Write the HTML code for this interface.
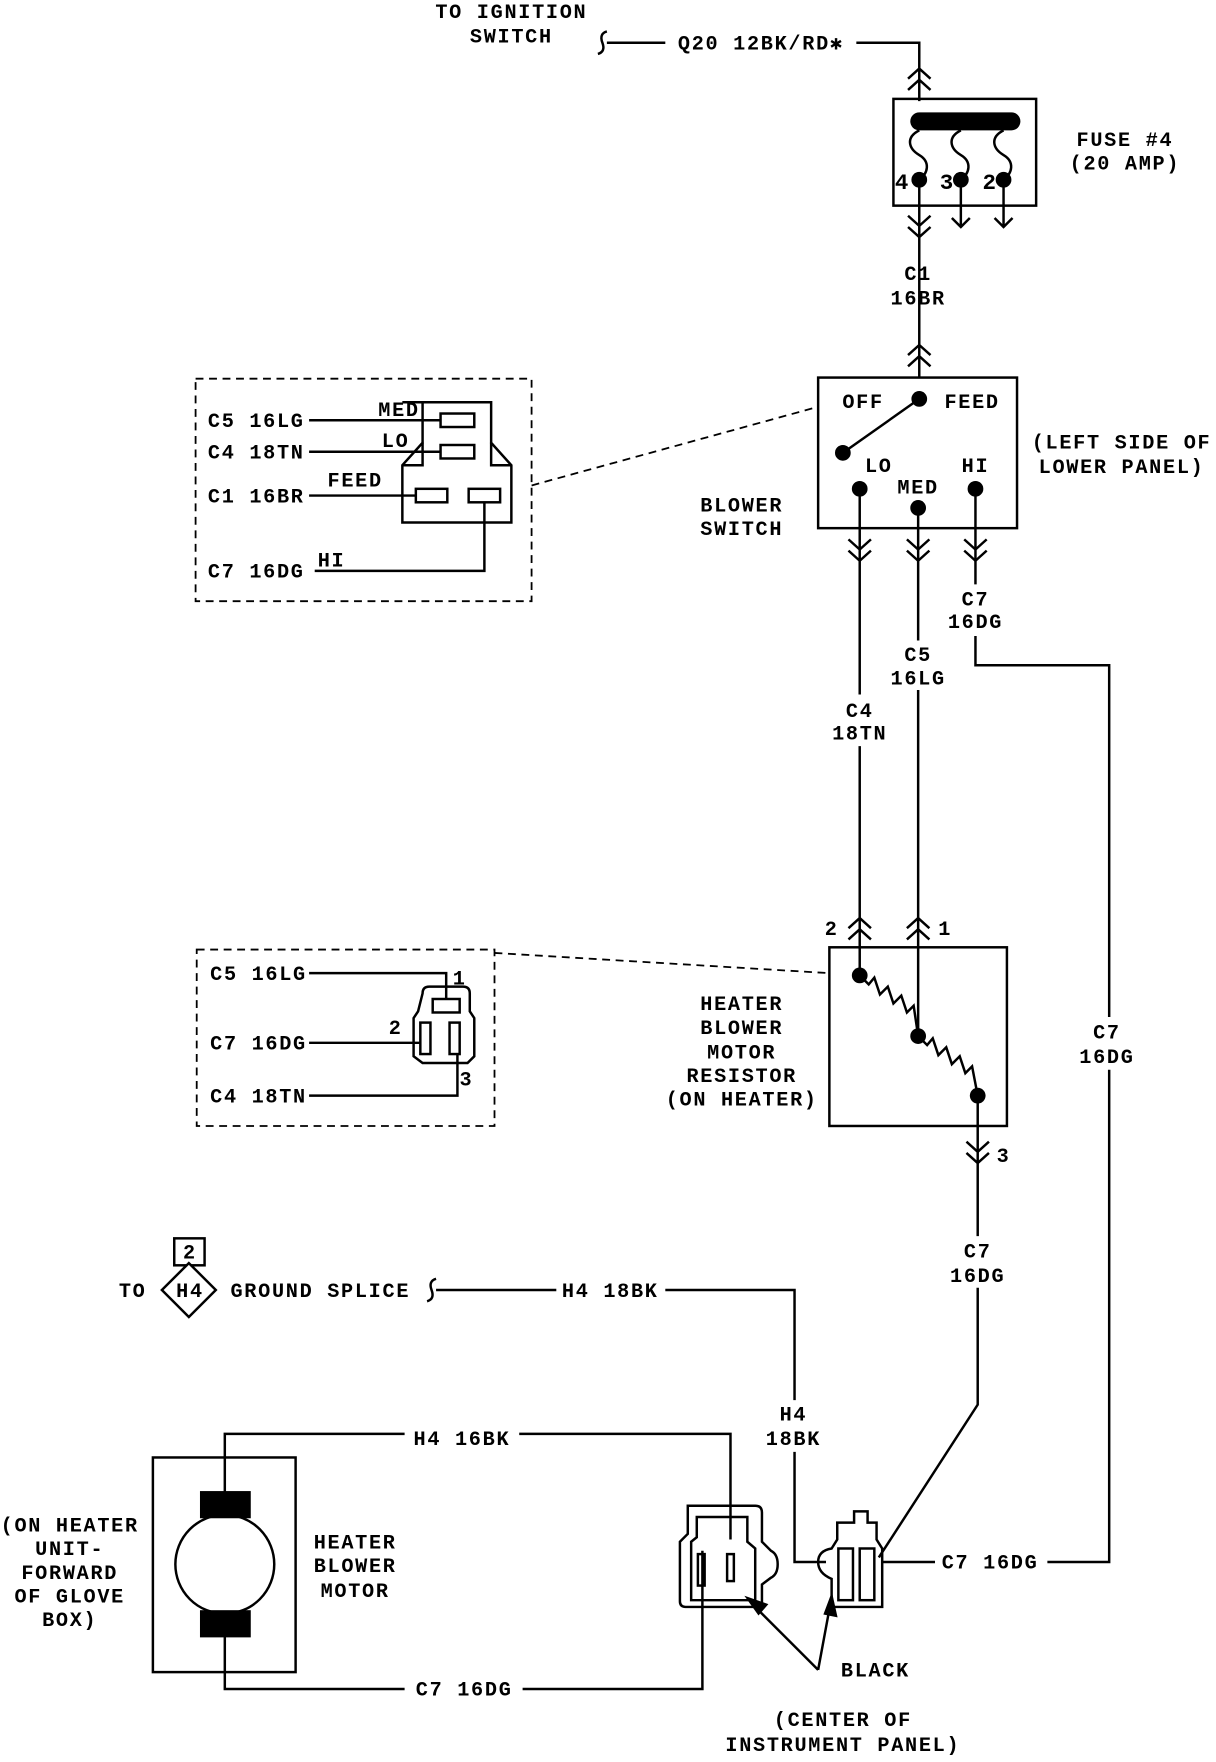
<!DOCTYPE html>
<html><head><meta charset="utf-8"><style>
html,body{margin:0;padding:0;background:#fff;}
svg{display:block;}
text{font-family:"Liberation Mono",monospace;font-size:18px;letter-spacing:1.5px;fill:#000;text-anchor:middle;font-weight:bold;}
</style></head><body>
<svg width="1216" height="1762" viewBox="0 0 1082 1568" xmlns="http://www.w3.org/2000/svg">
<defs>
<g id="up"><path d="M-10 6 L0 -3 L10 6 M-10 16 L0 7 L10 16" fill="none" stroke="#000" stroke-width="2.2"/></g>
<g id="dn"><path d="M-10 -6 L0 3 L10 -6 M-10 -16 L0 -7 L10 -16" fill="none" stroke="#000" stroke-width="2.2"/></g>
</defs>
<g fill="none" stroke="#000" stroke-width="2.2">
<path d="M540 28 Q533 30 536 38 Q539 46 532 48"/>
<path d="M540 38 L592 38"/>
<path d="M762 38 L818 38 L818 90"/>
<rect x="795" y="88" width="127" height="95"/>
<path d="M818 108 L900 108" stroke-width="16" stroke-linecap="round"/>
<path d="M818 116 C806 122,808 132,818 138 C828 144,826 154,818 160"/>
<path d="M855 116 C843 122,845 132,855 138 C865 144,863 154,855 160"/>
<path d="M893 116 C881 122,883 132,893 138 C903 144,901 154,893 160"/>
<path d="M818 160 L818 336"/>
<path d="M855 160 L855 202 M847 194 L855 202 L863 194"/>
<path d="M893 160 L893 202 M885 194 L893 202 L901 194"/>
<rect x="728" y="336" width="177" height="134"/>
<path d="M818 355 L750 403"/>
<path d="M473 432 L728 362" stroke-dasharray="7,5" stroke-width="1.6"/>
<path d="M765 435 L765 618 M765 664 L765 868"/>
<path d="M817 452 L817 570 M817 614 L817 922"/>
<path d="M868 435 L868 520 M868 566 L868 592 L987 592 L987 905 M987 952 L987 1390 L932 1390"/>
<rect x="738" y="843" width="158" height="159"/>
<path d="M765 868 L773 876 L778 870 L783 885 L790 878 L795 893 L802 886 L807 901 L813 895 L817 922"/>
<path d="M817 922 L825 930 L830 924 L835 939 L842 932 L847 947 L854 940 L859 955 L865 949 L870 975"/>
<path d="M440 848 L738 866" stroke-dasharray="7,5" stroke-width="1.6"/>
<path d="M870 975 L870 1100 M870 1146 L870 1250 L782 1386"/>
<rect x="174" y="337" width="299" height="198" stroke-dasharray="7,5" stroke-width="1.6"/>
<path d="M358 358 L437 358 L437 394 L455 414 L455 465 L358 465 L358 414 L376 394 L376 358"/>
<path d="M437 394 L437 414 L455 414 M376 394 L376 414 L358 414"/>
<rect x="392" y="368" width="30" height="12"/>
<rect x="392" y="396" width="30" height="12"/>
<rect x="370" y="435" width="28" height="12"/>
<rect x="417" y="435" width="28" height="12"/>
<path d="M275 374 L392 374 M275 402 L392 402 M275 441 L370 441 M280 508 L431 508 L431 447"/>
<rect x="175" y="845" width="265" height="157" stroke-dasharray="7,5" stroke-width="1.6"/>
<path d="M376 884 Q376 878 382 878 L412 878 Q418 878 418 884 L418 900 L422 906 L422 940 L416 946 L376 946 L368 940 L368 906 L372 900 Z"/>
<rect x="385" y="889" width="24" height="12"/>
<rect x="374" y="910" width="9" height="28"/>
<rect x="400" y="910" width="9" height="28"/>
<path d="M275 866 L397 866 L397 889 M275 928 L374 928 M275 975 L407 975 L407 938"/>
<rect x="155" y="1102" width="27" height="24"/>
<path d="M168 1124 L192 1148 L168 1172 L144 1148 Z" fill="#fff"/>
<path d="M388 1138 Q381 1140 384 1148 Q387 1156 380 1158"/>
<path d="M388 1148 L495 1148 M592 1148 L707 1148 L707 1246 M707 1292 L707 1390 L735 1390"/>
<rect x="136" y="1297" width="127" height="191"/>
<circle cx="200" cy="1392" r="44"/>
<rect x="179" y="1328" width="43" height="22" fill="#000"/>
<rect x="179" y="1434" width="43" height="22" fill="#000"/>
<path d="M200 1328 L200 1276 L360 1276 M462 1276 L650 1276 L650 1370"/>
<path d="M200 1456 L200 1503 L360 1503 M465 1503 L625 1503 L625 1380"/>
<path d="M612 1340 L672 1340 Q678 1340 678 1346 L678 1372 L686 1380 Q692 1383 692 1392 Q692 1401 686 1404 L678 1410 L678 1430 L610 1430 Q605 1430 605 1425 L605 1372 L612 1365 Z"/>
<path d="M620 1350 L665 1350 L665 1372 L672 1378 L672 1424 L615 1424 L615 1372 L620 1368 Z"/>
<rect x="621" y="1383" width="6" height="28"/>
<rect x="647" y="1383" width="6" height="24"/>
<path d="M745 1370 L745 1355 L760 1355 L760 1345 L772 1345 L772 1355 L780 1355 L780 1370 L785 1378 L785 1430 L740 1430 L740 1405 Q728 1400 728 1390 Q728 1380 740 1378 Z"/>
<rect x="746" y="1378" width="13" height="46"/>
<rect x="765" y="1378" width="13" height="46"/>
<path d="M785 1390 L832 1390"/>
<path d="M728 1486 L672 1430 M728 1486 L738 1432"/>
</g>
<path d="M665 1422 L682 1428 L675 1436 Z" fill="#000" stroke="#000" stroke-width="2"/>
<path d="M740 1420 L744 1438 L734 1436 Z" fill="#000" stroke="#000" stroke-width="2"/>
<g fill="#000">
<circle cx="818" cy="160" r="7"/><circle cx="855" cy="160" r="7"/><circle cx="893" cy="160" r="7"/>
<circle cx="818" cy="355" r="7"/><circle cx="750" cy="403" r="7"/>
<circle cx="765" cy="435" r="7"/><circle cx="817" cy="452" r="7"/><circle cx="868" cy="435" r="7"/>
<circle cx="765" cy="868" r="7"/><circle cx="817" cy="922" r="7"/><circle cx="870" cy="975" r="7"/>
</g>
<use href="#up" x="818" y="64"/>
<use href="#dn" x="818" y="208"/>
<use href="#up" x="818" y="310"/>
<use href="#dn" x="765" y="496"/>
<use href="#dn" x="817" y="496"/>
<use href="#dn" x="868" y="496"/>
<use href="#up" x="765" y="820"/>
<use href="#up" x="817" y="820"/>
<use href="#dn" x="870" y="1032"/>
<text x="455" y="16">TO IGNITION</text>
<text x="455" y="38">SWITCH</text>
<text x="677" y="44">Q20 12BK/RD✱</text>
<text x="803" y="168" style="font-size:20px">4</text>
<text x="843" y="168" style="font-size:20px">3</text>
<text x="881" y="168" style="font-size:20px">2</text>
<text x="1001" y="130">FUSE #4</text>
<text x="1001" y="151">(20 AMP)</text>
<text x="817" y="249">C1</text>
<text x="817" y="271">16BR</text>
<text x="768" y="363">OFF</text>
<text x="865" y="363">FEED</text>
<text x="782" y="420">LO</text>
<text x="817" y="439">MED</text>
<text x="868" y="420">HI</text>
<text x="998" y="399">(LEFT SIDE OF</text>
<text x="998" y="421">LOWER PANEL)</text>
<text x="660" y="455">BLOWER</text>
<text x="660" y="476">SWITCH</text>
<text x="868" y="539">C7</text>
<text x="868" y="559">16DG</text>
<text x="817" y="588">C5</text>
<text x="817" y="609">16LG</text>
<text x="765" y="638">C4</text>
<text x="765" y="658">18TN</text>
<text x="740" y="832">2</text>
<text x="841" y="832">1</text>
<text x="985" y="924">C7</text>
<text x="985" y="946">16DG</text>
<text x="660" y="899">HEATER</text>
<text x="660" y="920">BLOWER</text>
<text x="660" y="942">MOTOR</text>
<text x="660" y="963">RESISTOR</text>
<text x="660" y="984">(ON HEATER)</text>
<text x="893" y="1034">3</text>
<text x="870" y="1119">C7</text>
<text x="870" y="1141">16DG</text>
<text x="228" y="380">C5 16LG</text>
<text x="228" y="408">C4 18TN</text>
<text x="228" y="447">C1 16BR</text>
<text x="228" y="514">C7 16DG</text>
<text x="355" y="370">MED</text>
<text x="352" y="398">LO</text>
<text x="316" y="433">FEED</text>
<text x="295" y="504">HI</text>
<text x="230" y="872">C5 16LG</text>
<text x="230" y="934">C7 16DG</text>
<text x="230" y="981">C4 18TN</text>
<text x="409" y="876">1</text>
<text x="352" y="920">2</text>
<text x="415" y="966">3</text>
<text x="118" y="1154">TO</text>
<text x="169" y="1120">2</text>
<text x="169" y="1154">H4</text>
<text x="285" y="1154">GROUND SPLICE</text>
<text x="543" y="1154">H4 18BK</text>
<text x="706" y="1264">H4</text>
<text x="706" y="1286">18BK</text>
<text x="411" y="1286">H4 16BK</text>
<text x="413" y="1509">C7 16DG</text>
<text x="881" y="1396">C7 16DG</text>
<text x="62" y="1363">(ON HEATER</text>
<text x="62" y="1384">UNIT-</text>
<text x="62" y="1405">FORWARD</text>
<text x="62" y="1426">OF GLOVE</text>
<text x="62" y="1447">BOX)</text>
<text x="316" y="1378">HEATER</text>
<text x="316" y="1399">BLOWER</text>
<text x="316" y="1421">MOTOR</text>
<text x="779" y="1492">BLACK</text>
<text x="750" y="1536">(CENTER OF</text>
<text x="750" y="1558">INSTRUMENT PANEL)</text>
</svg>
</body></html>
